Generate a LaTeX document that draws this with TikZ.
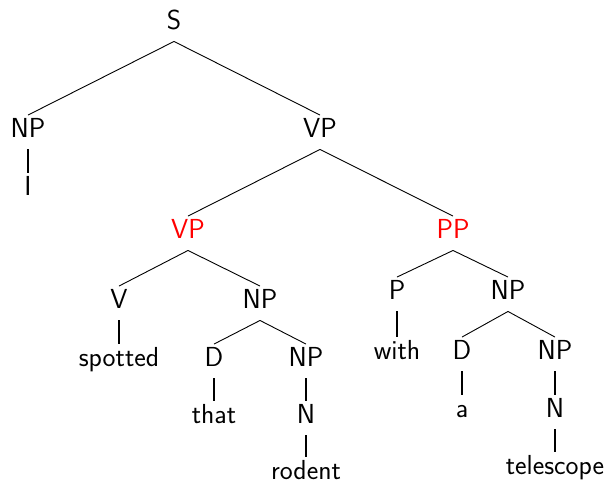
\documentclass[tikz,border=0pt]{standalone}
\usepackage{tikz}
\usetikzlibrary{positioning}

\begin{document}
\begin{tikzpicture}[x=1pt, y=-1pt, line width=0.9pt,
    every node/.style={font=\fontsize{27.5}{30}\sffamily, anchor=base, inner xsep=0pt, inner ysep=3pt, text height=18.5pt, text depth=9pt},
    hl/.style={text=red},
    leaf/.style={text depth=0pt},
    unary/.style={line width=1.4pt}]
			\useasboundingbox (0,0) rectangle (609,483);
			% top of the tree
			\node (s) at (174,29) {S};
			\node (np1) at (28,137) {NP};
			\node (vp1) at (320,137) {VP};
			\node (i) at (28,195) {I};
			\node[hl] (vp2) at (188,238) {VP};
			\node[hl] (pp) at (453,238) {PP};
			
			% left VP
			\node (v) at (119,308) {V};
			\node (np2) at (260,308) {NP};
			\node (spotted) at (119,366) {spotted};
			\node (d1) at (214,366) {D};
			\node (np3) at (306,366) {NP};
			\node (that) at (214,423) {that};
			\node (n1) at (306,423) {N};
			\node[leaf] (rodent) at (306,479) {rodent};
			
			% right PP
			\node (p) at (397,299) {P};
			\node (np4) at (508,299) {NP};
			\node (with) at (397,359) {with};
			\node (d2) at (462,359) {D};
			\node (np5) at (555,359) {NP};
			\node (a) at (462,417) {a};
			\node (n2) at (555,417) {N};
			\node (telescope) at (555,474) {telescope};
			
			\draw (s.south) -- (np1.north);
			\draw (s.south) -- (vp1.north);
			\draw[unary] (np1.south) -- (i.north);
			\draw (vp1.south) -- (vp2.north);
			\draw (vp1.south) -- (pp.north);
			\draw (vp2.south) -- (v.north);
			\draw (vp2.south) -- (np2.north);
			\draw[unary] (v.south) -- (spotted.north);
			\draw (np2.south) -- (d1.north);
			\draw (np2.south) -- (np3.north);
			\draw[unary] (d1.south) -- (that.north);
			\draw[unary] (np3.south) -- (n1.north);
			\draw[unary] (n1.south) -- (rodent.north);
			\draw (pp.south) -- (p.north);
			\draw (pp.south) -- (np4.north);
			\draw[unary] (p.south) -- (with.north);
			\draw (np4.south) -- (d2.north);
			\draw (np4.south) -- (np5.north);
			\draw[unary] (d2.south) -- (a.north);
			\draw[unary] (np5.south) -- (n2.north);
			\draw[unary] (n2.south) -- (telescope.north);
		\end{tikzpicture}
\end{document}
